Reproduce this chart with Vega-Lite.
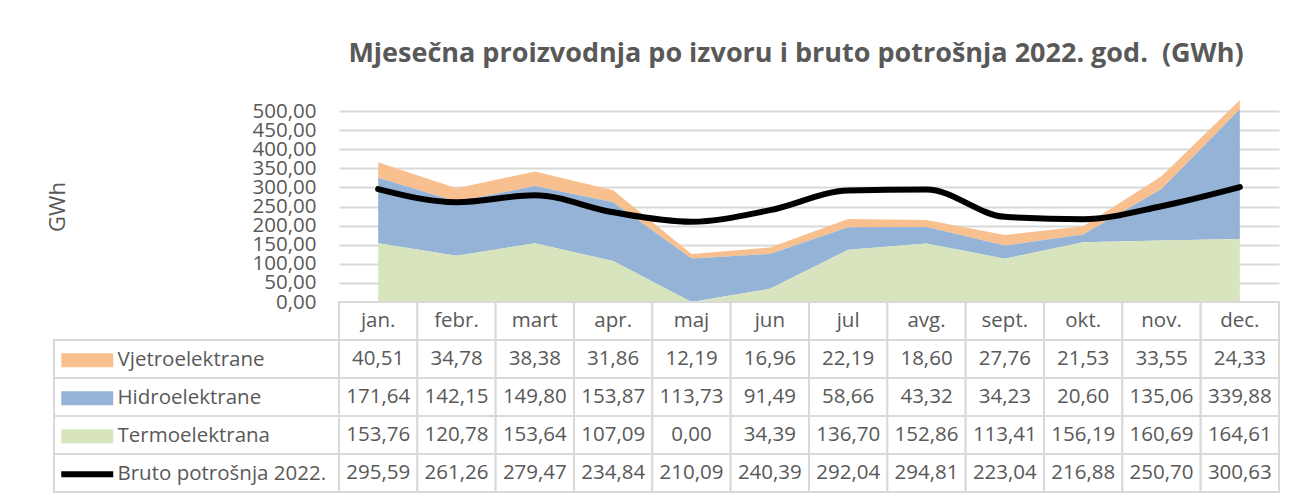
{
  "$schema": "https://vega.github.io/schema/vega-lite/v6.json",
  "padding": {"left": 46, "top": 39, "right": 5, "bottom": 4},
  "background": "white",
  "datasets": {
    "gen": [
      {"month": "jan.", "series": "Vjetroelektrane", "value": 40.51},
      {"month": "febr.", "series": "Vjetroelektrane", "value": 34.78},
      {"month": "mart", "series": "Vjetroelektrane", "value": 38.38},
      {"month": "apr.", "series": "Vjetroelektrane", "value": 31.86},
      {"month": "maj", "series": "Vjetroelektrane", "value": 12.19},
      {"month": "jun", "series": "Vjetroelektrane", "value": 16.96},
      {"month": "jul", "series": "Vjetroelektrane", "value": 22.19},
      {"month": "avg.", "series": "Vjetroelektrane", "value": 18.60},
      {"month": "sept.", "series": "Vjetroelektrane", "value": 27.76},
      {"month": "okt.", "series": "Vjetroelektrane", "value": 21.53},
      {"month": "nov.", "series": "Vjetroelektrane", "value": 33.55},
      {"month": "dec.", "series": "Vjetroelektrane", "value": 24.33},
      {"month": "jan.", "series": "Hidroelektrane", "value": 171.64},
      {"month": "febr.", "series": "Hidroelektrane", "value": 142.15},
      {"month": "mart", "series": "Hidroelektrane", "value": 149.80},
      {"month": "apr.", "series": "Hidroelektrane", "value": 153.87},
      {"month": "maj", "series": "Hidroelektrane", "value": 113.73},
      {"month": "jun", "series": "Hidroelektrane", "value": 91.49},
      {"month": "jul", "series": "Hidroelektrane", "value": 58.66},
      {"month": "avg.", "series": "Hidroelektrane", "value": 43.32},
      {"month": "sept.", "series": "Hidroelektrane", "value": 34.23},
      {"month": "okt.", "series": "Hidroelektrane", "value": 20.60},
      {"month": "nov.", "series": "Hidroelektrane", "value": 135.06},
      {"month": "dec.", "series": "Hidroelektrane", "value": 339.88},
      {"month": "jan.", "series": "Termoelektrana", "value": 153.76},
      {"month": "febr.", "series": "Termoelektrana", "value": 120.78},
      {"month": "mart", "series": "Termoelektrana", "value": 153.64},
      {"month": "apr.", "series": "Termoelektrana", "value": 107.09},
      {"month": "maj", "series": "Termoelektrana", "value": 0.00},
      {"month": "jun", "series": "Termoelektrana", "value": 34.39},
      {"month": "jul", "series": "Termoelektrana", "value": 136.70},
      {"month": "avg.", "series": "Termoelektrana", "value": 152.86},
      {"month": "sept.", "series": "Termoelektrana", "value": 113.41},
      {"month": "okt.", "series": "Termoelektrana", "value": 156.19},
      {"month": "nov.", "series": "Termoelektrana", "value": 160.69},
      {"month": "dec.", "series": "Termoelektrana", "value": 164.61},
      {"month": "jan.", "series": "Bruto potrošnja 2022.", "value": 295.59},
      {"month": "febr.", "series": "Bruto potrošnja 2022.", "value": 261.26},
      {"month": "mart", "series": "Bruto potrošnja 2022.", "value": 279.47},
      {"month": "apr.", "series": "Bruto potrošnja 2022.", "value": 234.84},
      {"month": "maj", "series": "Bruto potrošnja 2022.", "value": 210.09},
      {"month": "jun", "series": "Bruto potrošnja 2022.", "value": 240.39},
      {"month": "jul", "series": "Bruto potrošnja 2022.", "value": 292.04},
      {"month": "avg.", "series": "Bruto potrošnja 2022.", "value": 294.81},
      {"month": "sept.", "series": "Bruto potrošnja 2022.", "value": 223.04},
      {"month": "okt.", "series": "Bruto potrošnja 2022.", "value": 216.88},
      {"month": "nov.", "series": "Bruto potrošnja 2022.", "value": 250.70},
      {"month": "dec.", "series": "Bruto potrošnja 2022.", "value": 300.63}
    ],
    "stackOrder": [
      {"series": "Termoelektrana", "rank": 1},
      {"series": "Hidroelektrane", "rank": 2},
      {"series": "Vjetroelektrane", "rank": 3}
    ]
  },
  "config": {
    "view": {"stroke": null},
    "font": "Open Sans",
    "locale": {"number": {"decimal": ",", "thousands": ".", "grouping": [3], "currency": ["", ""]}}
  },
  "resolve": {"scale": {"color": "independent"}, "legend": {"color": "independent"}},
  "columns": 2,
  "spacing": 0,
  "bounds": "flush",
  "concat": [
    {
      "width": 285,
      "height": 191,
      "data": {"name": "gen"},
      "transform": [{"filter": {"field": "series", "equal": "Bruto potrošnja 2022."}}],
      "mark": {"type": "point", "opacity": 0},
      "encoding": {
        "y": {
          "field": "value",
          "type": "quantitative",
          "scale": {"domain": [0, 500], "nice": false},
          "axis": {
            "title": "GWh",
            "orient": "left",
            "offset": -285,
            "values": [0, 50, 100, 150, 200, 250, 300, 350, 400, 450, 500],
            "format": ".2f",
            "labelOverlap": false,
            "ticks": false,
            "domain": false,
            "grid": false,
            "labelFont": "Open Sans",
            "labelFontSize": 20.5,
            "labelColor": "#595959",
            "labelPadding": 23,
            "titleFont": "Open Sans",
            "titleFontSize": 22,
            "titleFontWeight": "normal",
            "titleColor": "#595959",
            "titlePadding": 183
          }
        }
      }
    },
    {
      "width": 940,
      "height": 191,
      "data": {"name": "gen"},
      "title": {
        "text": "Mjesečna proizvodnja po izvoru i bruto potrošnja 2022. god.\u00a0 (GWh)",
        "anchor": "middle",
        "frame": "group",
        "font": "Open Sans",
        "fontSize": 27,
        "fontWeight": "bold",
        "color": "#595959",
        "offset": 32,
        "dx": -13
      },
      "encoding": {
        "x": {
          "field": "month",
          "type": "ordinal",
          "sort": ["jan.", "febr.", "mart", "apr.", "maj", "jun", "jul", "avg.", "sept.", "okt.", "nov.", "dec."],
          "scale": {"type": "point", "padding": 0.5},
          "axis": null
        }
      },
      "layer": [
        {
          "transform": [
            {"filter": {"field": "series", "oneOf": ["Termoelektrana", "Hidroelektrane", "Vjetroelektrane"]}},
            {"lookup": "series", "from": {"data": {"name": "stackOrder"}, "key": "series", "fields": ["rank"]}}
          ],
          "mark": {"type": "area", "clip": false},
          "encoding": {
            "y": {
              "field": "value",
              "type": "quantitative",
              "stack": "zero",
              "scale": {"domain": [0, 500], "nice": false},
              "axis": {
                "title": null,
                "values": [0, 50, 100, 150, 200, 250, 300, 350, 400, 450, 500],
                "labels": false,
                "ticks": false,
                "domain": false,
                "grid": true,
                "gridColor": "#D9D9D9",
                "gridWidth": 2
              }
            },
            "color": {
              "field": "series",
              "type": "nominal",
              "scale": {
                "domain": ["Termoelektrana", "Hidroelektrane", "Vjetroelektrane"],
                "range": ["#D7E4BD", "#95B3D7", "#F9C08F"]
              },
              "legend": null
            },
            "order": {"field": "rank", "type": "quantitative"}
          }
        },
        {
          "transform": [{"filter": {"field": "series", "equal": "Bruto potrošnja 2022."}}],
          "mark": {"type": "line", "color": "#000000", "strokeWidth": 6, "interpolate": "monotone", "strokeCap": "round", "strokeJoin": "round"},
          "encoding": {
            "y": {
              "field": "value",
              "type": "quantitative",
              "axis": {
                "title": null,
                "values": [0, 50, 100, 150, 200, 250, 300, 350, 400, 450, 500],
                "labels": false,
                "ticks": false,
                "domain": false,
                "grid": true,
                "gridColor": "#D9D9D9",
                "gridWidth": 2
              }
            }
          }
        }
      ]
    },
    {
      "width": 285,
      "height": 190,
      "data": {"name": "gen"},
      "transform": [{"filter": {"field": "month", "equal": "jan."}}],
      "encoding": {
        "y": {
          "field": "series",
          "type": "nominal",
          "scale": {
            "domain": ["hdr", "Vjetroelektrane", "Hidroelektrane", "Termoelektrana", "Bruto potrošnja 2022."],
            "paddingInner": 0,
            "paddingOuter": 0
          },
          "axis": null
        }
      },
      "layer": [
        {
          "mark": {"type": "rect", "fill": "white", "stroke": "#D9D9D9", "strokeWidth": 2}
        },
        {
          "mark": {"type": "square", "opacity": 0},
          "encoding": {
            "color": {
              "field": "series",
              "type": "nominal",
              "scale": {
                "domain": ["Vjetroelektrane", "Hidroelektrane", "Termoelektrana", "Bruto potrošnja 2022."],
                "range": ["#F9C08F", "#95B3D7", "#D7E4BD", "#000000"]
              },
              "legend": {
                "orient": "none",
                "legendX": 23,
                "legendY": 48,
                "direction": "vertical",
                "title": null,
                "symbolType": "M-3.71,-1H3.71V1H-3.71Z",
                "symbolSize": 196,
                "symbolStrokeWidth": 0,
                "symbolOpacity": 1,
                "labelFont": "Open Sans",
                "labelFontSize": 20.5,
                "labelColor": "#595959",
                "labelLimit": 300,
                "labelOffset": 20,
                "rowPadding": 17,
                "encode": {
                  "symbols": {
                    "update": {
                      "shape": {"signal": "datum.value === 'Bruto potrošnja 2022.' ? 'M-3.71,-0.43H3.71V0.43H-3.71Z' : 'M-3.71,-1H3.71V1H-3.71Z'"},
                      "opacity": {"value": 1}
                    }
                  }
                }
              }
            }
          }
        }
      ]
    },
    {
      "width": 940,
      "height": 190,
      "data": {"name": "gen"},
      "encoding": {
        "x": {
          "field": "month",
          "type": "ordinal",
          "sort": ["jan.", "febr.", "mart", "apr.", "maj", "jun", "jul", "avg.", "sept.", "okt.", "nov.", "dec."],
          "scale": {"paddingInner": 0, "paddingOuter": 0},
          "axis": null
        }
      },
      "layer": [
        {
          "mark": {"type": "rect", "fill": "white", "stroke": "#D9D9D9", "strokeWidth": 2},
          "encoding": {
            "y": {
              "field": "series",
              "type": "nominal",
              "scale": {
                "domain": ["hdr", "Vjetroelektrane", "Hidroelektrane", "Termoelektrana", "Bruto potrošnja 2022."],
                "paddingInner": 0,
                "paddingOuter": 0
              },
              "axis": null
            }
          }
        },
        {
          "transform": [{"filter": {"field": "series", "equal": "Vjetroelektrane"}}],
          "mark": {"type": "rect", "fill": "white", "stroke": "#D9D9D9", "strokeWidth": 2},
          "encoding": {"y": {"datum": "hdr", "type": "nominal"}}
        },
        {
          "mark": {"type": "text", "font": "Open Sans", "fontSize": 20.5, "color": "#595959", "baseline": "middle", "align": "center"},
          "encoding": {
            "y": {"field": "series", "type": "nominal"},
            "text": {"field": "value", "type": "quantitative", "format": ".2f"}
          }
        },
        {
          "transform": [{"filter": {"field": "series", "equal": "Vjetroelektrane"}}],
          "mark": {"type": "text", "font": "Open Sans", "fontSize": 20.5, "color": "#595959", "baseline": "middle", "align": "center"},
          "encoding": {
            "y": {"datum": "hdr", "type": "nominal"},
            "text": {"field": "month", "type": "nominal"}
          }
        }
      ]
    }
  ]
}
